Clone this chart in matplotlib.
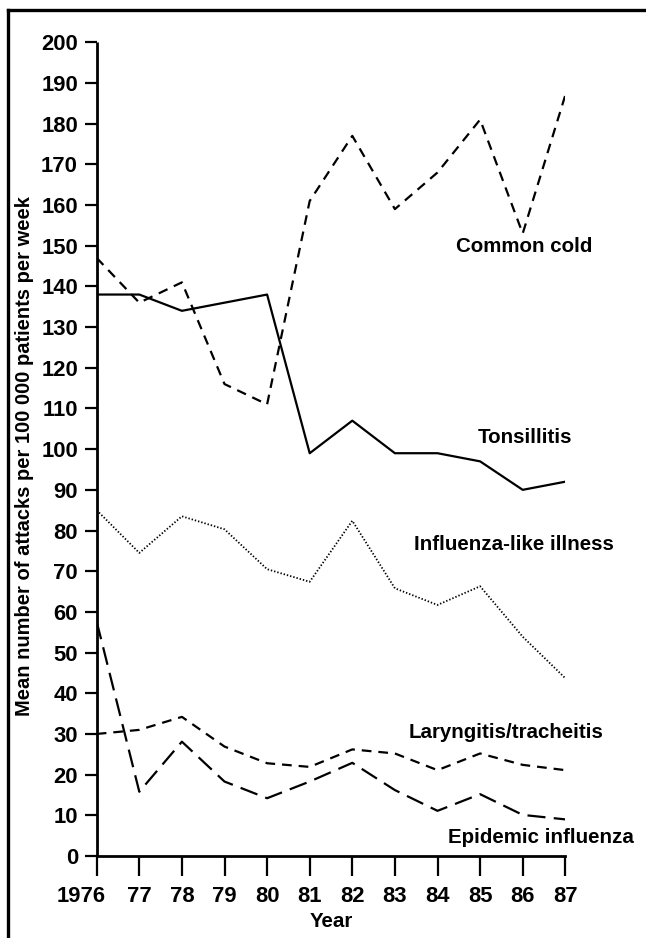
import numpy as np
import matplotlib
matplotlib.use("Agg")
import matplotlib.pyplot as plt
import matplotlib.transforms as mtransforms
from matplotlib.lines import Line2D

plt.rcParams['font.family'] = ['Liberation Sans', 'DejaVu Sans']
plt.rcParams['lines.scale_dashes'] = False

years = np.arange(1976, 1988)
year_labels = ['1976', '77', '78', '79', '80', '81', '82', '83', '84', '85', '86', '87']

common_cold = [147, 136, 141, 116, 111, 161, 177, 159, 168, 181, 153, 187]
tonsillitis = [138, 138, 134, 136, 138, 99, 107, 99, 99, 97, 90, 92]
influenza_like = [85, 74.5, 83.5, 80.3, 70.5, 67.4, 82.4, 65.8, 61.7, 66.3, 53.9, 43.7]
laryngitis = [30, 31, 34.2, 26.9, 22.8, 21.9, 26.2, 25.2, 21.1, 25.2, 22.4, 21.1]
epidemic_flu = [57.6, 15.8, 28.1, 18.3, 14.2, 18.3, 22.9, 16.2, 11.1, 15.2, 10.1, 9.0]

W, H = 646, 938
fig = plt.figure(figsize=(W / 100, H / 100), dpi=100)
ax = fig.add_axes([96.7 / W, (H - 856) / H, (565.3 - 96.7) / W, (856 - 42.3) / H])

lw = 1.6
ax.plot(years, common_cold, color='black', lw=lw, linestyle=(0, (7, 5)))
ax.plot(years, tonsillitis, color='black', lw=lw)
ax.plot(years, influenza_like, color='black', lw=1.3, linestyle=(0, (1, 1.4)))
ax.plot(years, laryngitis, color='black', lw=lw, linestyle=(0, (7, 5)))
ax.plot(years, epidemic_flu, color='black', lw=lw, linestyle=(0, (13, 6)))

ax.set_xlim(1976, 1987)
ax.set_ylim(0, 200)
for s in ['top', 'right']:
    ax.spines[s].set_visible(False)
for s in ['left', 'bottom']:
    ax.spines[s].set_linewidth(2)
ax.spines['left'].set_capstyle('butt')

ax.set_yticks(np.arange(0, 201, 10))
ax.set_xticks(years)
ax.set_xticklabels(year_labels)
ax.tick_params(axis='y', direction='out', length=8.5, width=1.6, pad=5,
               labelsize=15.8)
ax.tick_params(axis='x', direction='out', length=14.5, width=1.6, pad=7,
               labelsize=15.8)
for t in ax.get_xticklabels() + ax.get_yticklabels():
    t.set_fontweight('bold')

# the first year label sits a little left of its tick
first = ax.get_xticklabels()[0]
first.set_transform(first.get_transform() +
                    mtransforms.ScaledTranslation(-16 / 100, 0, fig.dpi_scale_trans))

def ftext(x, y, s, size=14.8, **kw):
    fig.text(x / W, 1 - y / H, s, ha='center', va='center',
             fontsize=size, fontweight='bold', **kw)

ftext(524, 247, 'Common cold')
ftext(525, 437, 'Tonsillitis')
ftext(514, 544, 'Influenza-like illness')
ftext(506, 732, 'Laryngitis/tracheitis')
ftext(541, 837, 'Epidemic influenza')
ftext(331, 921, 'Year')
ftext(25, 456, 'Mean number of attacks per 100 000 patients per week', size=14.5,
      rotation=90)

# outer frame (top and left edges)
fig.add_artist(Line2D([8 / W, 8 / W], [0, 1 - 10 / H], transform=fig.transFigure,
                      color='black', lw=2.4, solid_capstyle='projecting'))
fig.add_artist(Line2D([8 / W, 1], [1 - 10 / H, 1 - 10 / H], transform=fig.transFigure,
                      color='black', lw=2.4, solid_capstyle='projecting'))

fig.savefig('out.png', dpi=100)
